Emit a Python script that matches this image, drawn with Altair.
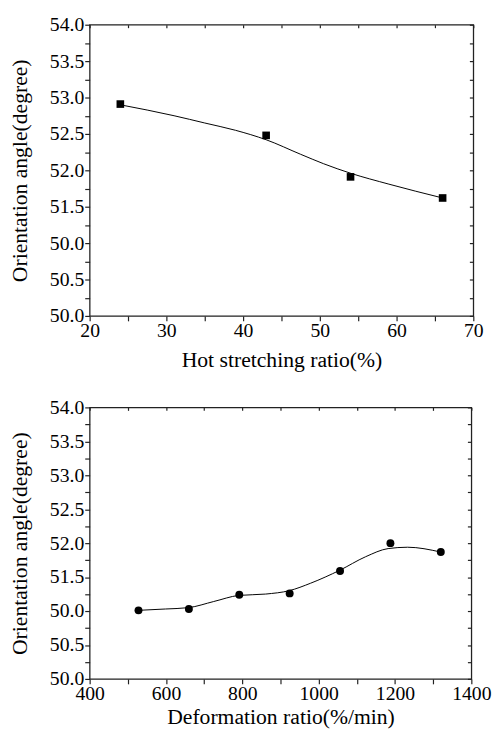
import altair as alt
import pandas as pd

# ---- top panel data ----
hot_ratio = [24, 43, 54, 66]
hot_angle = [52.91, 52.48, 51.91, 51.62]
hot_curve_x = [24, 31, 35, 39, 43, 47.5, 50.5, 54, 59, 66]
hot_curve_y = [52.90, 52.75, 52.65, 52.55, 52.42, 52.22, 52.09, 51.96, 51.81, 51.62]

# ---- bottom panel data ----
def_ratio = [528, 660, 792, 924, 1056, 1188, 1320]
def_angle = [51.01, 51.03, 51.24, 51.26, 51.59, 52.00, 51.87]
def_curve_x = [527, 599, 659, 725, 791, 861, 923, 979, 1055, 1123, 1182, 1233, 1319]
def_curve_y = [51.01, 51.03, 51.05, 51.14, 51.23, 51.25, 51.30, 51.41, 51.60, 51.80, 51.92, 51.94, 51.87]

y_ticks = [50 + 0.25 * i for i in range(17)]
hot_x_ticks = [20 + 5 * i for i in range(11)]
def_x_ticks = [400 + 100 * i for i in range(11)]

FONT = "Liberation Serif"
LABEL_SIZE = 20
TITLE_SIZE = 22

y_label_expr = ("(datum.value * 2) % 1 != 0 ? '' : "
                "(abs(datum.value - 51) < 0.001 ? '50.0' : format(datum.value, '.1f'))")


def panel(px, py, cx, cy, xdom, xticks, xmajor, xtitle, shape, size, w, h, xtp):
    pts = pd.DataFrame({"x": px, "y": py})
    crv = pd.DataFrame({"x": cx, "y": cy})
    xs = alt.Scale(domain=xdom, nice=False, zero=False)
    ys = alt.Scale(domain=[50, 54], nice=False, zero=False)
    x_label_expr = f"datum.value % {xmajor} != 0 ? '' : format(datum.value, 'd')"
    bottom = alt.Axis(orient="bottom", values=xticks, labelExpr=x_label_expr,
                      title=xtitle, tickSize=5, labelPadding=0, titlePadding=xtp,
                      grid=False, domain=False, labelFlush=False)
    left = alt.Axis(orient="left", values=y_ticks, labelExpr=y_label_expr,
                    title="Orientation angle(degree)", tickSize=5, labelPadding=1,
                    titlePadding=18, grid=False, domain=False)
    top = alt.Axis(orient="top", values=xticks, labels=False, title=None,
                   tickSize=3, grid=False, domain=False, offset=-3)
    right = alt.Axis(orient="right", values=y_ticks, labels=False, title=None,
                     tickSize=4, grid=False, domain=False, offset=-4)
    p = alt.Chart(pts).mark_point(shape=shape, filled=True, size=size,
                                  color="black", opacity=1).encode(
        x=alt.X("x:Q", scale=xs, axis=bottom),
        y=alt.Y("y:Q", scale=ys, axis=left))
    c = alt.Chart(crv).mark_line(interpolate="monotone", color="black",
                                 strokeWidth=1).encode(
        x=alt.X("x:Q", scale=xs, axis=top),
        y=alt.Y("y:Q", scale=ys, axis=right))
    return alt.layer(p, c).resolve_scale(x="independent", y="independent").properties(
        width=w, height=h)


top_panel = panel(hot_ratio, hot_angle, hot_curve_x, hot_curve_y, [20, 70],
                  hot_x_ticks, 10, "Hot stretching ratio(%)", "square", 60, 390, 296, 9)
bottom_panel = panel(def_ratio, def_angle, def_curve_x, def_curve_y, [400, 1400],
                     def_x_ticks, 200, "Deformation ratio(%/min)", "circle", 65, 388, 276, 3)

chart = alt.vconcat(top_panel, bottom_panel, spacing=26).properties(
    padding=0,
    background="white"
).configure_view(stroke="#222222", strokeWidth=1.3).configure_axis(
    labelFont=FONT, titleFont=FONT, labelFontSize=LABEL_SIZE, titleFontSize=TITLE_SIZE,
    labelColor="black", titleColor="black", tickColor="#222222", tickWidth=1.2,
    titleFontWeight="normal"
)

chart.save("out.html", embed_options={"renderer": "svg", "actions": False})
